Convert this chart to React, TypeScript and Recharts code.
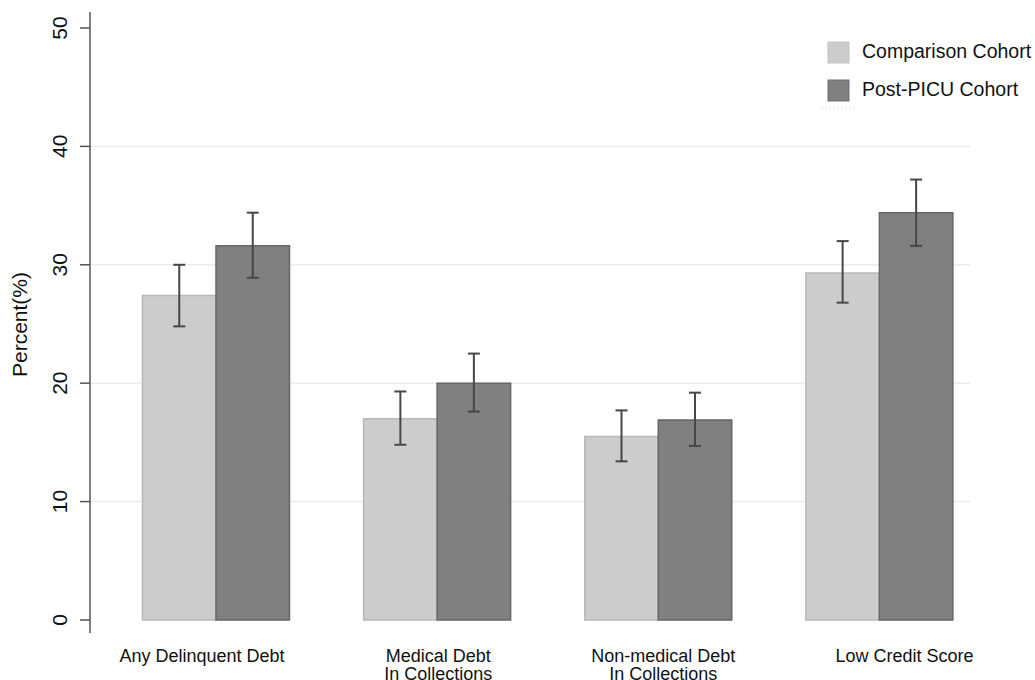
import React from "react";
import {
  BarChart,
  Bar,
  XAxis,
  YAxis,
  ErrorBar,
  CartesianGrid,
  Legend,
  Label,
} from "recharts";

const categories = [
  "Any Delinquent Debt",
  "Medical Debt\nIn Collections",
  "Non-medical Debt\nIn Collections",
  "Low Credit Score",
];
const comparison = [27.4, 17.0, 15.5, 29.3];
const comparisonLow = [24.8, 14.8, 13.4, 26.8];
const comparisonHigh = [30.0, 19.3, 17.7, 32.0];
const postPicu = [31.6, 20.0, 16.9, 34.4];
const postLow = [28.9, 17.6, 14.7, 31.6];
const postHigh = [34.4, 22.5, 19.2, 37.2];
const yTicks = [0, 10, 20, 30, 40, 50];
const gridValues = [10, 20, 30, 40];
const seriesNames = ["Comparison Cohort", "Post-PICU Cohort"];

const FONT = '"Liberation Sans", Arial, Helvetica, sans-serif';
// horizontal nudge of each category label (layout only)
const LABEL_SHIFT = [-14, 1, 5, 25];

const data = categories.map((c, i) => ({
  name: c,
  comp: comparison[i],
  compErr: [comparison[i] - comparisonLow[i], comparisonHigh[i] - comparison[i]],
  post: postPicu[i],
  postErr: [postPicu[i] - postLow[i], postHigh[i] - postPicu[i]],
}));

const XTick = (props: any) => {
  const { x, y, payload, index } = props;
  const lines = String(payload.value).split("\n");
  const dx = LABEL_SHIFT[index] || 0;
  return (
    <g>
      {lines.map((l, i) => (
        <text
          key={i}
          x={x + dx}
          y={y + 29 + i * 18}
          textAnchor="middle"
          fontSize={18}
          fontFamily={FONT}
          fill="#111"
        >
          {l}
        </text>
      ))}
    </g>
  );
};

const YTick = (props: any) => {
  const { x, y, payload } = props;
  const tx = x - 13;
  return (
    <text
      transform={`translate(${tx},${y}) rotate(-90)`}
      textAnchor="middle"
      fontSize={21}
      fontFamily={FONT}
      fill="#111"
    >
      {payload.value}
    </text>
  );
};

const GridLine = (p: any) => (
  <line
    key={p.key}
    x1={p.x1}
    y1={p.y1}
    x2={p.x2 - 20}
    y2={p.y2}
    stroke="#ececec"
    strokeWidth={1.5}
  />
);

const LegendContent = () => (
  <svg width={215} height={80} style={{ display: "block" }}>
    <rect x={8} y={7} width={21} height={21} fill="#cccccc" stroke="#c2c2c2" strokeWidth={1} />
    <text x={42} y={23} fontSize={19.5} fontFamily={FONT} fill="#111">
      {seriesNames[0]}
    </text>
    <rect x={8} y={45} width={21} height={21} fill="#808080" stroke="#6e6e6e" strokeWidth={1} />
    <text x={42} y={61} fontSize={19.5} fontFamily={FONT} fill="#111">
      {seriesNames[1]}
    </text>
    <line x1={2} y1={73} x2={36} y2={73} stroke="#cfcfcf" strokeDasharray="1 3" strokeWidth={1} />
  </svg>
);

export default function App() {
  return (
    <div style={{ position: "absolute", left: 0, top: 0, background: "#fff" }}>
      <BarChart
        width={1035}
        height={680}
        data={data}
        margin={{ top: 12, right: 45, bottom: 0, left: 0 }}
        barGap={0}
      >
        <CartesianGrid
          vertical={false}
          horizontal={GridLine}
          horizontalValues={gridValues}
        />
        <XAxis
          dataKey="name"
          axisLine={false}
          tickLine={false}
          tickSize={0}
          tickMargin={0}
          height={47}
          padding={{ left: 15.5, right: 0 }}
          tick={<XTick />}
          interval={0}
        />
        <YAxis
          type="number"
          domain={[-1.1, 51.35]}
          allowDataOverflow
          ticks={yTicks}
          width={90}
          tickSize={10}
          tickMargin={0}
          axisLine={{ stroke: "#555", strokeWidth: 1.5 }}
          tickLine={{ stroke: "#555", strokeWidth: 1.5 }}
          tick={<YTick />}
        >
          <Label
            content={(p: any) => {
              const vb = p.viewBox || { y: 12, height: 621 };
              const cy = vb.y + vb.height / 2 + 2;
              return (
                <text
                  transform={`translate(27,${cy}) rotate(-90)`}
                  textAnchor="middle"
                  fontSize={21}
                  fontFamily={FONT}
                  fill="#111"
                >
                  Percent(%)
                </text>
              );
            }}
          />
        </YAxis>
        <Legend
          layout="vertical"
          align="center"
          verticalAlign="middle"
          content={<LegendContent />}
          wrapperStyle={{ position: "absolute", left: 820, top: 35, width: 215, height: 80 }}
        />
        <Bar
          dataKey="comp"
          name={seriesNames[0]}
          fill="#cccccc"
          stroke="#b8b8b8"
          strokeWidth={1.5}
          barSize={73.5}
          isAnimationActive={false}
        >
          <ErrorBar dataKey="compErr" width={6} stroke="#474747" strokeWidth={2} direction="y" />
        </Bar>
        <Bar
          dataKey="post"
          name={seriesNames[1]}
          fill="#808080"
          stroke="#666666"
          strokeWidth={1.5}
          barSize={73.5}
          isAnimationActive={false}
        >
          <ErrorBar dataKey="postErr" width={6} stroke="#474747" strokeWidth={2} direction="y" />
        </Bar>
      </BarChart>
    </div>
  );
}
